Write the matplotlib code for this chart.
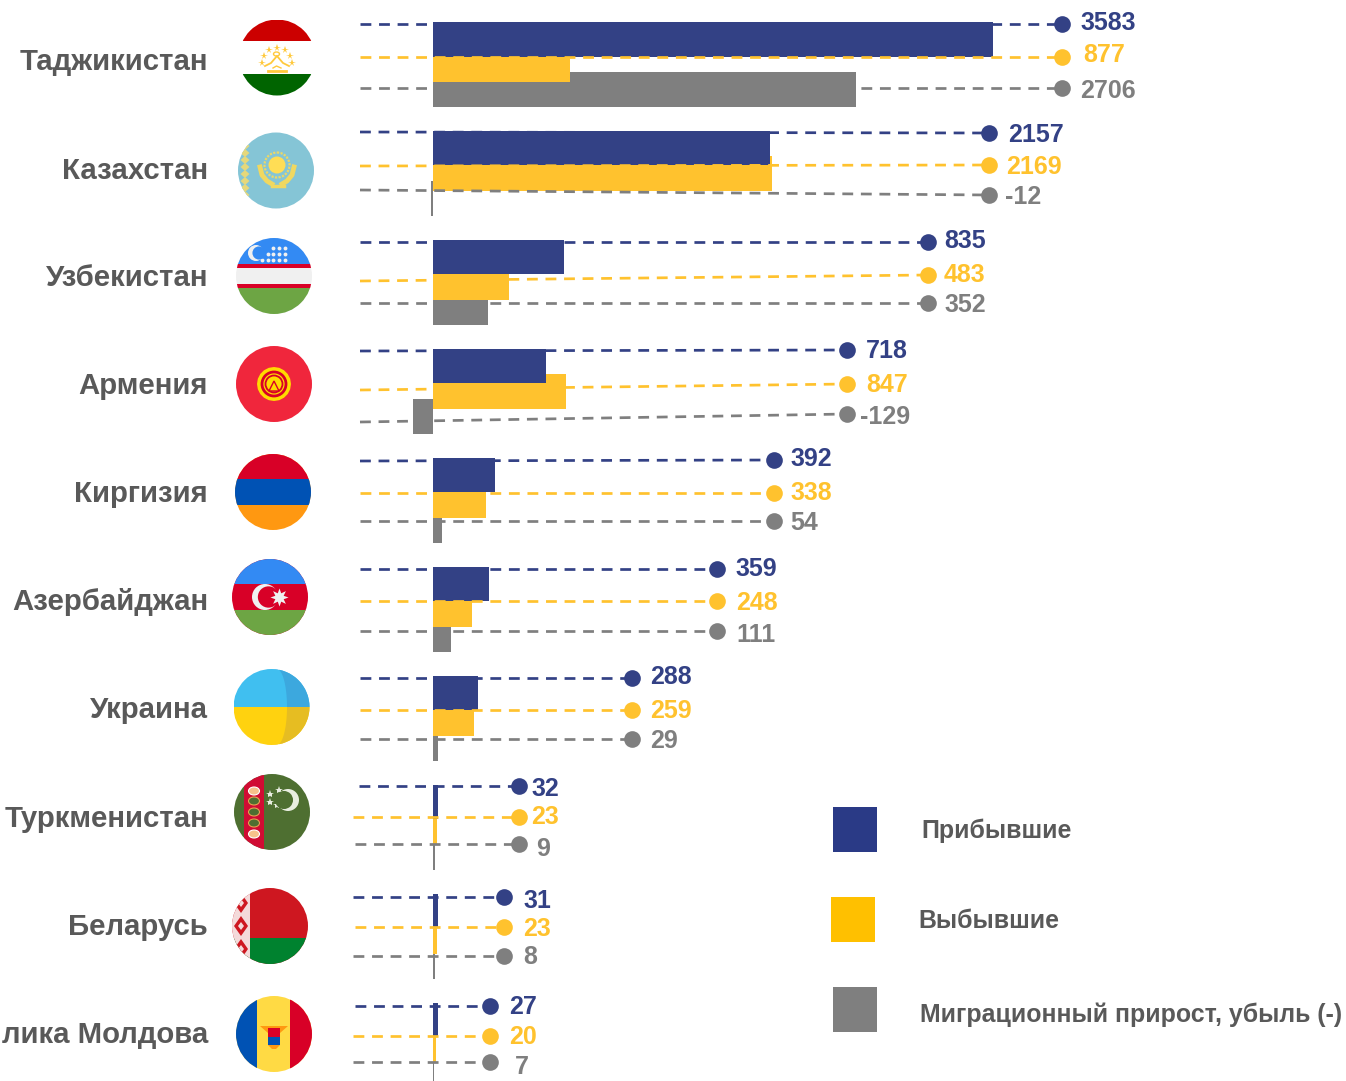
import matplotlib
matplotlib.use("Agg")
import matplotlib.pyplot as plt
import numpy as np
from matplotlib.patches import Circle, Rectangle, Polygon, RegularPolygon, Ellipse

W, H = 1346, 1081
plt.rcParams['font.family'] = ['Liberation Sans', 'DejaVu Sans']

# ---- data ----
countries = ["Таджикистан", "Казахстан", "Узбекистан", "Армения", "Киргизия",
             "Азербайджан", "Украина", "Туркменистан", "Беларусь", "лика Молдова"]
arrived = [3583, 2157, 835, 718, 392, 359, 288, 32, 31, 27]
departed = [877, 2169, 483, 847, 338, 248, 259, 23, 23, 20]
net = [2706, -12, 352, -129, 54, 111, 29, 9, 8, 7]
legend_labels = ["Прибывшие", "Выбывшие", "Миграционный прирост, убыль (-)"]

# ---- layout (pixels) ----
bar_tops = [22.5, 131, 240, 349, 458, 567, 676, 785, 894, 1003]
label_y = [62, 171, 278, 386, 494, 602, 710, 819, 927, 1035]
dot_x = [1062, 989, 928, 847, 774, 717, 632, 519, 504, 490]
left_blue = [360, 360, 360, 360, 360, 360, 360, 359, 353, 355]
left_gold = [360, 360, 360, 360, 360, 360, 360, 353, 355, 353]
left_grey = [360, 360, 360, 360, 360, 360, 360, 355, 353, 353]
# leader y: (left, right) for each series
blue_y = [(24, 24), (132, 133), (242, 242), (351, 350), (461, 460), (569, 569), (678, 678), (786, 786), (897, 897), (1006, 1006)]
gold_y = [(57, 57), (166, 165), (281, 275), (390, 384), (493, 493), (601, 601), (710, 710), (817, 817), (927, 927), (1036, 1036)]
grey_y = [(88, 88), (190, 195), (303, 303), (422, 414), (521, 521), (631, 631), (739, 739), (844, 844), (956, 956), (1062, 1062)]
blue_lbl = [(1080, 23.5), (1008, 134.5), (944, 241.5), (866, 351.5), (790, 458.5), (735, 568.5), (650, 677.5), (531, 789.5), (523, 900.5), (509, 1007.5)]
gold_lbl = [(1083, 55.5), (1006, 166.5), (944, 275.5), (866, 384.5), (790, 492.5), (736, 603.5), (650, 711.5), (531, 816.5), (523, 928.5), (509, 1037.5)]
grey_lbl = [(1080, 90.5), (1005, 197.5), (944, 305.5), (860, 417.5), (790, 522.5), (736, 634.5), (650, 740.5), (536, 848.5), (523, 957.5), (515, 1066.5)]
flag_c = [(277, 57.5), (276, 170.5), (274, 276), (274, 384), (273, 492), (270, 597), (271.5, 707), (272, 812), (270, 926), (274, 1034)]
R = 38

BLUE, GOLD, GREY = "#334185", "#FFC22E", "#7F7F7F"
TEXT = "#595959"

fig = plt.figure(figsize=(W / 100, H / 100), dpi=100, facecolor="white")
ax = fig.add_axes([0, 0, 1, 1])
ax.set_xlim(0, W); ax.set_ylim(H, 0); ax.axis("off")

# bar axes: x is the value scale
PX_PER_UNIT = 0.1563
ZERO = 433.3
bx = fig.add_axes([0, 0, 1, 1], sharey=ax)
bx.patch.set_alpha(0)
bx.set_xlim(-ZERO / PX_PER_UNIT, (W - ZERO) / PX_PER_UNIT)
bx.axis("off")

for i in range(len(countries)):
    t = bar_tops[i]
    bx.barh(t + 67, net[i], height=35, color=GREY, zorder=1, linewidth=0)
    bx.barh(t + 42, departed[i], height=35, color=GOLD, zorder=2, linewidth=0)
    bx.barh(t + 17, arrived[i], height=34.5, color=BLUE, zorder=3, linewidth=0)

# leaders, dots, labels on the pixel axes overlay
ov = fig.add_axes([0, 0, 1, 1])
ov.patch.set_alpha(0)
ov.set_xlim(0, W); ov.set_ylim(H, 0); ov.axis("off")

for i, name in enumerate(countries):
    for ys, left, col, lbl, val in ((blue_y[i], left_blue[i], BLUE, blue_lbl[i], arrived[i]),
                                    (gold_y[i], left_gold[i], GOLD, gold_lbl[i], departed[i]),
                                    (grey_y[i], left_grey[i], GREY, grey_lbl[i], net[i])):
        ov.plot([left, dot_x[i]], ys, color=col, lw=1.95, dashes=(4.0, 2.85),
                dash_capstyle="butt", zorder=4)
        ov.plot([dot_x[i]], [ys[1]], "o", color=col, ms=12, mew=0, zorder=5)
        ov.text(lbl[0], lbl[1], str(val), color=col, fontsize=18, fontweight="bold",
                ha="left", va="center", zorder=6)
    ov.text(208, label_y[i], name, color=TEXT, fontsize=21.2, fontweight="bold",
            ha="right", va="center", zorder=6)

# ---- flags ----
def rect(clip, x0, y0, x1, y1, c, z=1):
    p = Rectangle((x0, y0), x1 - x0, y1 - y0, fc=c, ec="none", zorder=z)
    ax.add_patch(p); p.set_clip_path(clip); return p

def base(cx, cy, c="white"):
    clip = Circle((cx, cy), R, transform=ax.transData, fc=c, ec="none", zorder=0.5)
    ax.add_patch(clip)
    return clip

def star(x, y, r, c, z=3):
    ax.plot([x], [y], marker="*", ms=r, color=c, mew=0, zorder=z)

def crescent(x, y, r, dx, c, bg, z=3):
    ax.add_patch(Circle((x, y), r, fc=c, ec="none", zorder=z))
    ax.add_patch(Circle((x + dx, y), r * 0.82, fc=bg, ec="none", zorder=z + 0.1))

# Tajikistan
cx, cy = flag_c[0]; cl = base(cx, cy)
rect(cl, cx - R, cy - R, cx + R, 41, "#CC0000")
rect(cl, cx - R, 73.5, cx + R, cy + R, "#006400")
for dx, dy in ((-15, 3), (-13, -4), (-8, -10), (0, -12), (8, -10), (13, -4), (15, 3)):
    star(cx + dx - 0.5, cy - 2 + dy + 4, 5.5, "#FFC93C")
ax.add_patch(Ellipse((cx - 0.5, 54), 6, 4, fc="none", ec="#FFC93C", lw=1, zorder=3))
ax.plot([cx - 12, cx - 6, cx, cx + 6, cx + 12], [66, 63, 56, 63, 66], color="#FFC93C", lw=1.3, zorder=3)
ax.plot([cx - 9, cx + 9], [70.5, 70.5], color="#FFC93C", lw=2, zorder=3)
ax.plot([cx - 4, cx - 0.5, cx + 4], [68, 66, 68], color="#FFC93C", lw=1, zorder=3)

# Kazakhstan
cx, cy = flag_c[1]; cl = base(cx, cy, "#85C5D6")
for yy in range(146, 196, 7):
    p = Polygon([(245, yy - 4), (249.5, yy), (245, yy + 4), (240.5, yy)], fc="#E6D87A", ec="none", zorder=2)
    ax.add_patch(p); p.set_clip_path(cl)
ax.add_patch(Circle((277, 165), 12.5, fc="none", ec="#E9D86A", lw=1.6, ls=(0, (1, 0.6)), zorder=3))
ax.add_patch(Circle((277, 165), 8.5, fc="#FFDD55", ec="none", zorder=3))
ax.plot([260, 262, 267, 272], [167, 175, 181, 184], color="#F0D860", lw=3.5, zorder=3)
ax.plot([294, 292, 287, 282], [167, 175, 181, 184], color="#F0D860", lw=3.5, zorder=3)
ax.plot([272, 284], [186, 186], color="#F0D860", lw=2.5, zorder=3)

# Uzbekistan
cx, cy = flag_c[2]; cl = base(cx, cy, "#F0F0F0")
rect(cl, cx - R, cy - R, cx + R, 264, "#338AF3")
rect(cl, cx - R, 264, cx + R, 268, "#D80027")
rect(cl, cx - R, 284, cx + R, 288, "#D80027")
rect(cl, cx - R, 288, cx + R, cy + R, "#6DA544")
crescent(256, 253, 8, 3, "#F0F0F0", "#338AF3")
for yy, xs in ((248, (273, 279, 284.5)), (254, (268, 273, 279, 284.5)), (259.5, (262, 268, 273, 279, 284.5))):
    ax.plot(xs, [yy] * len(xs), "o", color="#F0F0F0", ms=2.8, mew=0, zorder=3)

# Red flag with yellow sun (drawn in the reference against Армения)
cx, cy = flag_c[3]; cl = base(cx, cy, "#F0263C")
ax.add_patch(RegularPolygon((cx, cy), 20, radius=17, fc="#FFDA00", ec="none", zorder=2))
ax.add_patch(Circle((cx, cy), 12, fc="#FFDA00", ec="#D80027", lw=2, zorder=3))
ax.add_patch(Circle((cx, cy), 8.5, fc="#FFDA00", ec="#D80027", lw=1.3, zorder=3))
ax.add_patch(Polygon([(cx - 5, cy + 7), (cx, cy - 3), (cx + 5, cy + 7)], fc="#FFDA00", ec="#D80027", lw=1, zorder=4))

# Armenia tricolour
cx, cy = flag_c[4]; cl = base(cx, cy, "#FF9811")
rect(cl, cx - R, cy - R, cx + R, 479, "#D80027")
rect(cl, cx - R, 479, cx + R, 505, "#0052B4")

# Azerbaijan
cx, cy = flag_c[5]; cl = base(cx, cy, "#D80027")
rect(cl, cx - R, cy - R, cx + R, 583.5, "#338AF3")
rect(cl, cx - R, 610, cx + R, cy + R, "#6DA544")
crescent(265, 597, 13, 3.5, "#F0F0F0", "#D80027")
ax.plot([279], [597], marker=(8, 1, 0), ms=13, color="#F0F0F0", mew=0, zorder=4)

# Ukraine
cx, cy = flag_c[6]; cl = base(cx, cy)
rect(cl, cx - R, cy - R, cx + R, cy, "#40BFF0", 1)
rect(cl, cx - R, cy, cx + R, cy + R, "#FFD20F", 1)
dy = np.linspace(0, 37.9, 60)
outer = cx + np.sqrt(R ** 2 - dy ** 2)
inner = 277 + 10 * np.sqrt(1 - (dy / 37.9) ** 2)
for sign, c in ((-1, "#3CA8DE"), (1, "#E6BD22")):
    pts = list(zip(inner, cy + sign * dy)) + list(zip(outer[::-1], cy + sign * dy[::-1]))
    ax.add_patch(Polygon(pts, fc=c, ec="none", zorder=2))

# Turkmenistan
cx, cy = flag_c[7]; cl = base(cx, cy, "#4E6F31")
rect(cl, 244, cy - R, 264, cy + R, "#D00C33")
for yy, c, e in ((791, "#F6C28B", "white"), (801, "#4E6F31", "#E6A050"), (812, "#4E6F31", "#E6A050"),
                 (823, "#4E6F31", "#E6A050"), (834, "#F6C28B", "white")):
    ax.add_patch(Ellipse((254, yy), 11, 8, fc=c, ec=e, lw=0.8, zorder=3))
crescent(288, 800, 11, -4, "#E8EDE0", "#4E6F31")
for x, y in ((270, 794), (279, 790), (282, 797), (270, 802), (277, 805)):
    star(x, y, 6, "#E8EDE0")

# Belarus
cx, cy = flag_c[8]; cl = base(cx, cy, "#CE1720")
rect(cl, cx - R, 938, cx + R, cy + R, "#00822F", 1)
rect(cl, cx - R, cy - R, 250, cy + R, "#F4DADA", 2)
for yy in (903, 926, 949):
    p1 = Polygon([(241, yy - 10), (248, yy), (241, yy + 10), (234, yy)], fc="#CE1720", ec="none", zorder=3)
    p2 = Polygon([(241, yy - 4), (244, yy), (241, yy + 4), (238, yy)], fc="#F4DADA", ec="none", zorder=4)
    ax.add_patch(p1); ax.add_patch(p2)
    p1.set_clip_path(cl); p2.set_clip_path(cl)

# Moldova
cx, cy = flag_c[9]; cl = base(cx, cy, "#FFDA44")
rect(cl, cx - R, cy - R, 257, cy + R, "#0052B4")
rect(cl, 290, cy - R, cx + R, cy + R, "#D80027")
ax.add_patch(Polygon([(260, 1026), (288, 1026), (280, 1033), (268, 1033)], fc="#FF9811", ec="none", zorder=3))
ax.add_patch(Rectangle((268, 1028), 12, 9, fc="#D80027", ec="none", zorder=4))
ax.add_patch(Rectangle((268, 1037), 12, 8, fc="#0052B4", ec="none", zorder=4))
ax.add_patch(Polygon([(268, 1045), (280, 1045), (276, 1049), (272, 1049)], fc="#FF9811", ec="none", zorder=4))

# ---- legend ----
leg_sq = [(833, 807, "#2A3A86"), (831, 897, "#FFC000"), (833, 987, "#7F7F7F")]
leg_tx = [(921.5, 831), (918.5, 921), (920, 1015)]
for (x, y, c), (tx, ty), s in zip(leg_sq, leg_tx, legend_labels):
    ov.add_patch(Rectangle((x, y), 44, 44.5, fc=c, ec="none"))
    ov.text(tx, ty, s, color=TEXT, fontsize=17.9, fontweight="bold", ha="left", va="center")

fig.savefig("out.png", dpi=100, facecolor="white")
